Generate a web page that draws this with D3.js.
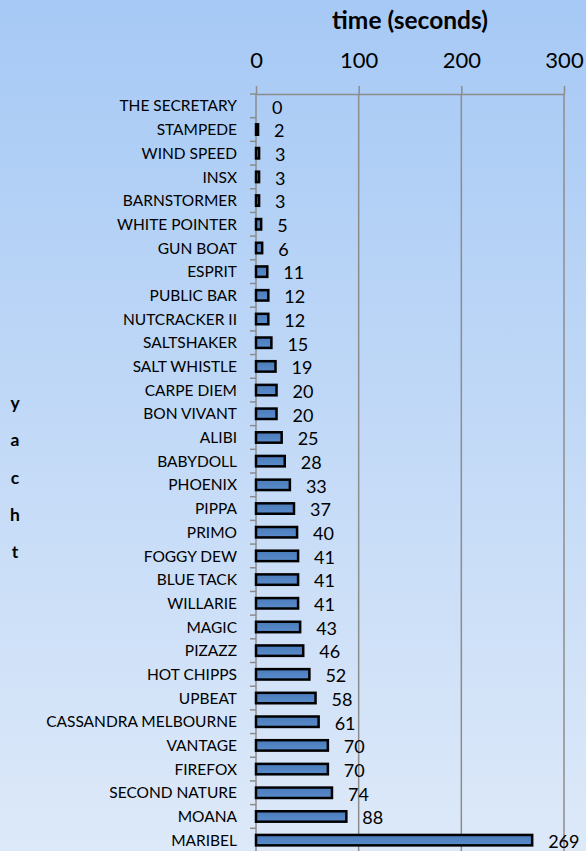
<!DOCTYPE html>
<html>
<head>
<meta charset="utf-8">
<script src="https://cdn.jsdelivr.net/npm/d3@7"></script>
<style>
  html, body { margin: 0; padding: 0; }
  body { width: 586px; height: 851px; overflow: hidden; }
  text { font-family: Lato, "Open Sans", sans-serif; fill: #000; }
</style>
</head>
<body>
<svg id="chart" width="586" height="851"></svg>
<script>
// yachts, top to bottom
const yachts = ["THE SECRETARY", "STAMPEDE", "WIND SPEED", "INSX", "BARNSTORMER", "WHITE POINTER",
  "GUN BOAT", "ESPRIT", "PUBLIC BAR", "NUTCRACKER II", "SALTSHAKER", "SALT WHISTLE", "CARPE DIEM",
  "BON VIVANT", "ALIBI", "BABYDOLL", "PHOENIX", "PIPPA", "PRIMO", "FOGGY DEW", "BLUE TACK",
  "WILLARIE", "MAGIC", "PIZAZZ", "HOT CHIPPS", "UPBEAT", "CASSANDRA MELBOURNE", "VANTAGE",
  "FIREFOX", "SECOND NATURE", "MOANA", "MARIBEL"]
// time (seconds)
const times = [0, 2, 3, 3, 3, 5, 6, 11, 12, 12, 15, 19, 20, 20, 25, 28, 33, 37, 40, 41, 41, 41,
  43, 46, 52, 58, 61, 70, 70, 74, 88, 269]
const xTicks = [0, 100, 200, 300]
const xTitle = "time (seconds)"
const yTitle = "yacht"

const svg = d3.select("#chart")

//background gradient
let defs = svg.append("defs")
let bg = defs.append("linearGradient").attr("id", "bg").attr("x1", 0).attr("y1", 0).attr("x2", 0).attr("y2", 1)
bg.append("stop").attr("offset", "0%").attr("stop-color", "#a6c9f5")
bg.append("stop").attr("offset", "100%").attr("stop-color", "#dde9f9")
let barGrad = defs.append("linearGradient").attr("id", "barfill").attr("x1", 0).attr("y1", 0).attr("x2", 0).attr("y2", 1)
barGrad.append("stop").attr("offset", "0%").attr("stop-color", "#4a7cba")
barGrad.append("stop").attr("offset", "100%").attr("stop-color", "#5a8ccc")

svg.append("rect").attr("width", 586).attr("height", 851).attr("fill", "url(#bg)")

const plotL = 256, plotR = 564, plotT = 94, plotB = 852

const x = d3.scaleLinear().domain([0, 300]).range([plotL, plotR])
const y = d3.scaleBand().domain(yachts).range([plotT, plotB]).paddingInner(0.56).paddingOuter(0.28)

//gridlines
svg.append("g").selectAll("line").data(xTicks.slice(1)).enter().append("line")
  .attr("x1", d => x(d)).attr("x2", d => x(d)).attr("y1", plotT).attr("y2", plotB)
  .attr("stroke", "#8c8c8c").attr("stroke-width", 1.5)

//top axis
let xAxis = svg.append("g").attr("transform", `translate(0,${plotT})`)
  .call(d3.axisTop(x).tickValues(xTicks).tickSize(8).tickPadding(18).tickSizeOuter(0))
xAxis.select(".domain").attr("stroke", "#8c8c8c").attr("stroke-width", 1.5)
xAxis.selectAll(".tick line").attr("stroke", "#8c8c8c").attr("stroke-width", 1.5)
xAxis.selectAll(".tick text").attr("font-family", "Lato").attr("font-size", 22).attr("fill", "#000")

svg.append("text").attr("x", (plotL + plotR) / 2).attr("y", 29).attr("text-anchor", "middle")
  .attr("font-size", 24.5).attr("font-weight", "bold").text(xTitle)

//left axis: labels only, ticks drawn on row boundaries
let yAxis = svg.append("g").attr("transform", `translate(${plotL},0)`)
  .call(d3.axisLeft(y).tickSize(0).tickPadding(19))
yAxis.select(".domain").remove()
yAxis.selectAll(".tick text").attr("font-family", "Lato").attr("font-size", 15.5).attr("fill", "#000").attr("dy", "0.36em")

svg.append("line").attr("x1", plotL).attr("x2", plotL).attr("y1", plotT).attr("y2", plotB)
  .attr("stroke", "#8c8c8c").attr("stroke-width", 1.5)
svg.append("g").selectAll("line").data(d3.range(yachts.length + 1)).enter().append("line")
  .attr("x1", plotL - 6).attr("x2", plotL)
  .attr("y1", i => plotT + i * y.step()).attr("y2", i => plotT + i * y.step())
  .attr("stroke", "#8c8c8c").attr("stroke-width", 1.5)

//bars
let rows = yachts.map((d, i) => ({ name: d, value: times[i] }))
svg.append("g").selectAll("rect").data(rows.filter(d => d.value > 0)).enter().append("rect")
  .attr("x", x(0)).attr("y", d => y(d.name))
  .attr("width", d => x(d.value) - x(0)).attr("height", y.bandwidth())
  .attr("fill", "url(#barfill)").attr("stroke", "#000").attr("stroke-width", 2.5)

//value labels
svg.append("g").selectAll("text").data(rows).enter().append("text")
  .attr("x", d => x(d.value) + 16).attr("y", d => y(d.name) + y.bandwidth() / 2 + 1)
  .attr("dy", "0.38em").attr("font-size", 18).text(d => d.value)

//y title stacked letters
svg.append("g").selectAll("text").data(yTitle.split("")).enter().append("text")
  .attr("x", 15).attr("y", (d, i) => 409 + i * 37.3).attr("text-anchor", "middle")
  .attr("font-size", 17.5).attr("font-weight", "bold").text(d => d)
</script>
</body>
</html>
